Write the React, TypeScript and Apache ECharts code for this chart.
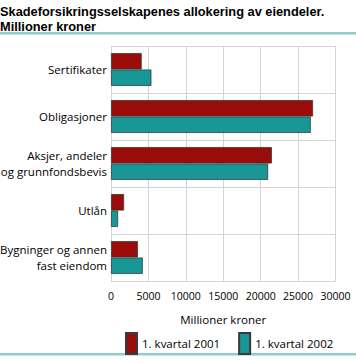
import React, { useEffect, useRef } from "react";
import * as echarts from "echarts";

const categories = [
  "Sertifikater",
  "Obligasjoner",
  "Aksjer, andeler\nog grunnfondsbevis",
  "Utlån",
  "Bygninger og annen\nfast eiendom",
];
const series2001 = [4100, 27000, 21500, 1750, 3600];
const series2002 = [5400, 26700, 21000, 950, 4250];
const seriesNames = ["1. kvartal 2001", "1. kvartal 2002"];
const titleLine1 = "Skadeforsikringsselskapenes allokering av eiendeler.";
const titleLine2 = "Millioner kroner";
const axisName = "Millioner kroner";

const FONT = "Open Sans";
const TITLE_FONT = "Liberation Sans";

export default function App() {
  const ref = useRef<HTMLDivElement>(null);
  useEffect(() => {
    document.body.style.margin = "0";
    if (!ref.current) return;
    const chart = echarts.init(ref.current, undefined, { renderer: "svg" });
    const titleStyle = {
      fontFamily: TITLE_FONT,
      fontSize: 12.8,
      fontWeight: "bold",
      color: "#000",
      lineHeight: 14,
    };
    chart.setOption({
      animation: false,
      textStyle: { fontFamily: FONT },
      title: [
        { text: titleLine1, left: 0, top: 4.5, padding: 0, textStyle: titleStyle },
        { text: titleLine2, left: 0, top: 19.5, padding: 0, textStyle: titleStyle },
      ],
      graphic: [
        { type: "rect", shape: { x: 0, y: 32, width: 356, height: 2.5 }, style: { fill: "#8ecdcd" } },
        { type: "rect", shape: { x: 0, y: 353, width: 356, height: 2.5 }, style: { fill: "#8ecdcd" } },
      ],
      legend: {
        left: 120,
        top: 327,
        icon: "rect",
        itemWidth: 11,
        itemHeight: 21,
        itemGap: 18,
        textStyle: { fontFamily: FONT, fontSize: 11.5, color: "#000" },
        data: seriesNames,
      },
      grid: {
        left: 111,
        right: 20.5,
        top: 46,
        bottom: 81,
        containLabel: false,
        outerBoundsMode: "none",
      },
      xAxis: {
        type: "value",
        min: 0,
        max: 30000,
        interval: 5000,
        name: axisName,
        nameLocation: "middle",
        nameGap: 32,
        nameTextStyle: { fontFamily: FONT, fontSize: 11.5, color: "#000" },
        axisLine: { show: false },
        axisTick: { show: false },
        axisLabel: {
          fontFamily: FONT,
          fontSize: 10.5,
          color: "#000",
          margin: 9,
          formatter: (v: number) => String(v),
        },
        splitLine: { show: true, lineStyle: { color: "#d4d4d4", width: 1 } },
      },
      yAxis: {
        type: "category",
        data: categories,
        inverse: true,
        axisLine: { show: true, lineStyle: { color: "#d4d4d4" } },
        axisTick: { show: false },
        axisLabel: { fontFamily: FONT, fontSize: 11.5, color: "#000", margin: 4, lineHeight: 16 },
        splitLine: { show: true, lineStyle: { color: "#d4d4d4", width: 1 } },
      },
      series: [
        {
          name: seriesNames[0],
          type: "bar",
          data: series2001,
          barGap: "0%",
          barCategoryGap: "30%",
          itemStyle: { color: "#990c0a", borderColor: "#3a3a3a", borderWidth: 0.8 },
        },
        {
          name: seriesNames[1],
          type: "bar",
          data: series2002,
          barGap: "0%",
          barCategoryGap: "30%",
          itemStyle: { color: "#189797", borderColor: "#3a3a3a", borderWidth: 0.8 },
        },
      ],
    });
    return () => chart.dispose();
  }, []);
  return <div ref={ref} style={{ width: 356, height: 362 }} />;
}
